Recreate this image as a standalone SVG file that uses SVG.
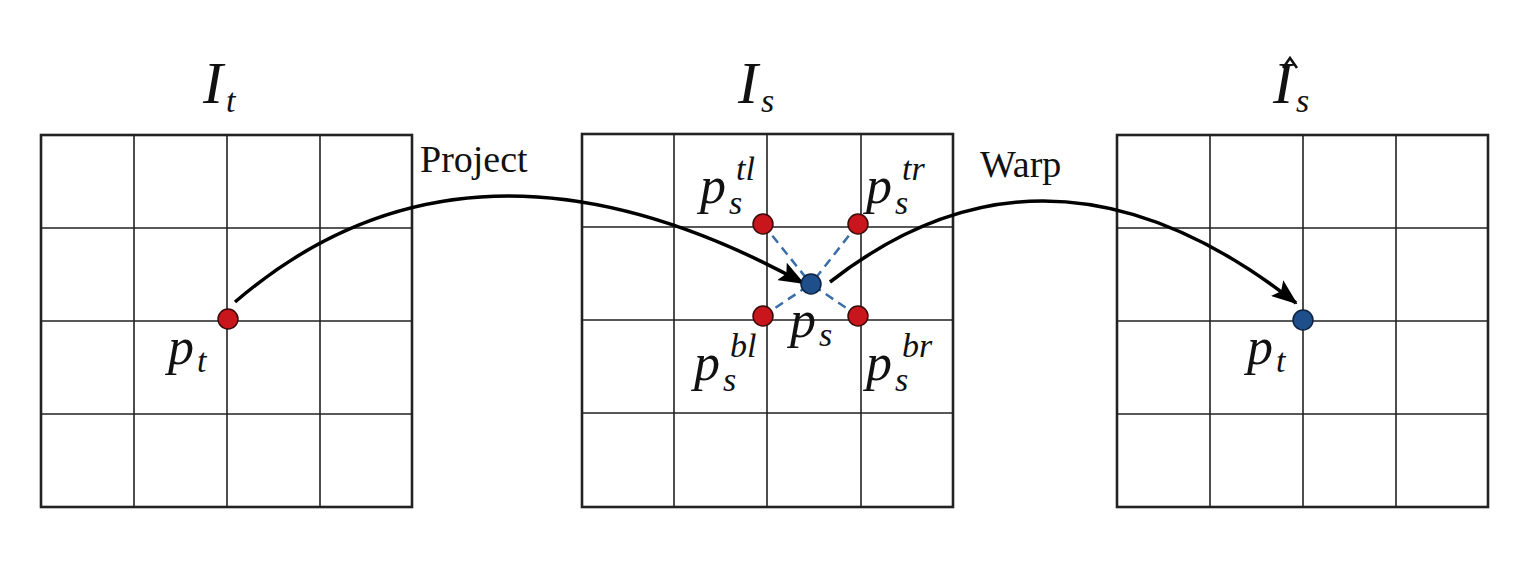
<svg xmlns="http://www.w3.org/2000/svg" width="1527" height="575" viewBox="0 0 1527 575">
<style>
.g{fill:none;stroke:#222;stroke-width:1.6}
.f{fill:none;stroke:#222;stroke-width:2.6}
.m{font-family:"Liberation Serif",serif;font-style:italic;fill:#111;font-size:52px}
.sb{font-family:"Liberation Serif",serif;font-style:italic;fill:#111;font-size:34px}
.T{font-family:"Liberation Serif",serif;font-style:italic;fill:#111;font-size:60px}
.t{font-family:"Liberation Serif",serif;fill:#111;font-size:38px}
.r{fill:#c8161c;stroke:#3a0a0a;stroke-width:1.5}
.b{fill:#1f4f8a;stroke:#0c2240;stroke-width:1.5}
.d{stroke:#3a6ea8;stroke-width:2.5;stroke-dasharray:9,6}
.a{fill:none;stroke:#000;stroke-width:3.5}
</style>
<defs><marker id="ah" viewBox="0 0 26 20" refX="24" refY="10" markerWidth="26" markerHeight="20" markerUnits="userSpaceOnUse" orient="auto"><path d="M0,0 L26,10 L0,20 L5,10 z" fill="#000"/></marker></defs>
<rect width="1527" height="575" fill="#fff"/>
<g id="grid-it">
<rect class="f" x="41" y="135" width="371" height="372"/>
<path class="g" d="M134,135V507M227,135V507M320,135V507M41,228H412M41,321H412M41,414H412"/>
<text class="T" x="203" y="103">I</text><text class="sb" x="226" y="112">t</text>
</g>
<g id="grid-is">
<rect class="f" x="582" y="134" width="371" height="373"/>
<path class="g" d="M674,134V507M767,134V507M861,134V507M582,227H953M582,320H953M582,413H953"/>
<text class="T" x="738" y="103">I</text><text class="sb" x="761" y="112">s</text>
</g>
<g id="grid-ihat">
<rect class="f" x="1117" y="135" width="371" height="372"/>
<path class="g" d="M1210,135V507M1303,135V507M1396,135V507M1117,228H1488M1117,321H1488M1117,414H1488"/>
<text class="T" x="1273" y="103">I</text><text class="sb" x="1296" y="112">s</text>
<path d="M1283,68 L1290,58 L1297,68" fill="none" stroke="#111" stroke-width="2.5"/>
</g>
<g id="connectors">
<path class="a" d="M235,302 Q470,100 803,283" marker-end="url(#ah)"/>
<path class="a" d="M830,282 Q1050,110 1296,303" marker-end="url(#ah)"/>
<line class="d" x1="763" y1="224" x2="811" y2="284"/>
<line class="d" x1="858" y1="224" x2="811" y2="284"/>
<line class="d" x1="763" y1="316" x2="811" y2="284"/>
<line class="d" x1="858" y1="316" x2="811" y2="284"/>
<text class="t" x="420" y="172">Project</text>
<text class="t" x="980" y="177">Warp</text>
</g>
<g id="pt-left"><circle class="r" cx="228" cy="319" r="10"/><text class="m" x="168" y="364">p</text><text class="sb" x="197" y="372">t</text></g>
<g id="ps-tl"><circle class="r" cx="763" cy="224" r="10"/><text class="m" x="700" y="203">p</text><text class="sb" x="729" y="214">s</text><text class="sb" x="736" y="180">tl</text></g>
<g id="ps-tr"><circle class="r" cx="858" cy="224" r="10"/><text class="m" x="866" y="203">p</text><text class="sb" x="895" y="214">s</text><text class="sb" x="902" y="180">tr</text></g>
<g id="ps-bl"><circle class="r" cx="763" cy="316" r="10"/><text class="m" x="694" y="380">p</text><text class="sb" x="723" y="391">s</text><text class="sb" x="730" y="357">bl</text></g>
<g id="ps-br"><circle class="r" cx="858" cy="316" r="10"/><text class="m" x="866" y="380">p</text><text class="sb" x="895" y="391">s</text><text class="sb" x="902" y="357">br</text></g>
<g id="ps"><circle class="b" cx="811" cy="284" r="10"/><text class="m" x="790" y="337">p</text><text class="sb" x="819" y="346">s</text></g>
<g id="pt-right"><circle class="b" cx="1303" cy="320" r="10"/><text class="m" x="1247" y="364">p</text><text class="sb" x="1276" y="372">t</text></g>
</svg>
